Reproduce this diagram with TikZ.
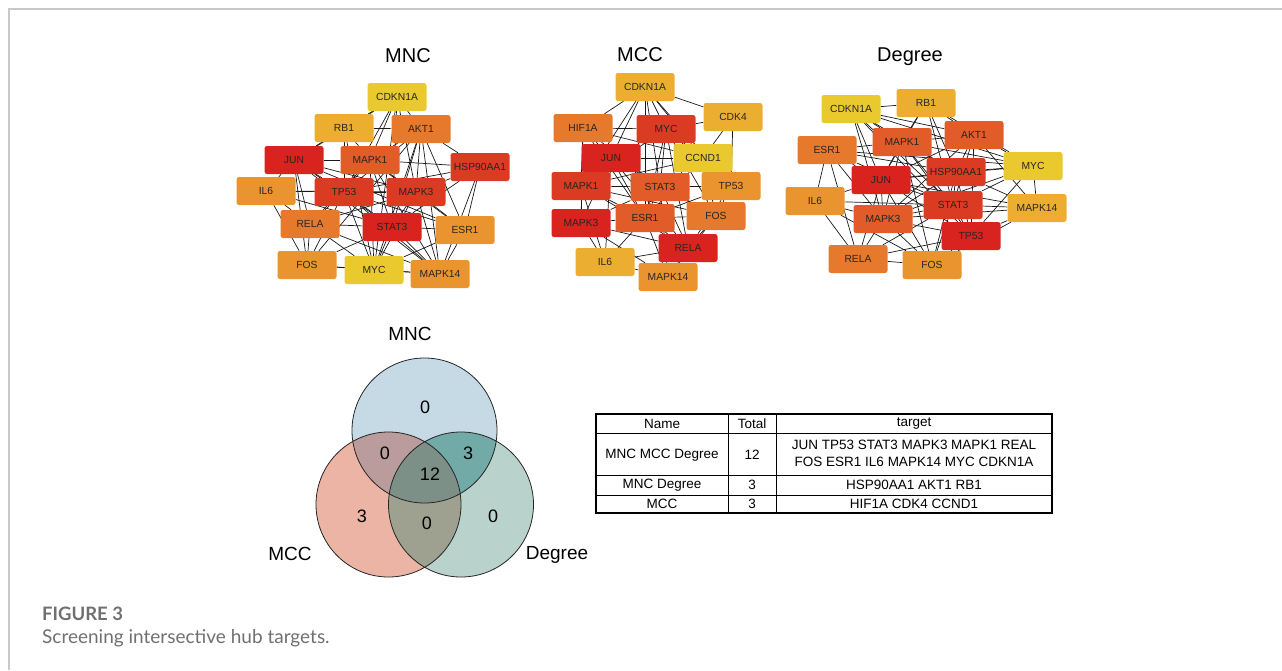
\documentclass[tikz,border=0pt]{standalone}
\usepackage{fontspec}
\setmainfont{Liberation Sans}
\newfontfamily\capfont{Lato}
\usepackage{tikz}
\usetikzlibrary{backgrounds}

\definecolor{hubA}{HTML}{D8231F}
\definecolor{hubB}{HTML}{DC3B23}
\definecolor{hubC}{HTML}{E15C28}
\definecolor{hubD}{HTML}{E6792B}
\definecolor{hubE}{HTML}{EA942F}
\definecolor{hubF}{HTML}{EBAE30}
\definecolor{hubG}{HTML}{EAC92F}
\definecolor{vTop}{HTML}{C5DAE4}
\definecolor{vLeft}{HTML}{EBB4A4}
\definecolor{vRight}{HTML}{B9D3CC}
\definecolor{vTL}{HTML}{BA9C9C}
\definecolor{vTR}{HTML}{72AAA7}
\definecolor{vLR}{HTML}{9FA190}
\definecolor{vAll}{HTML}{7C9087}
\definecolor{frame}{HTML}{C8C8C8}
\definecolor{captxt}{HTML}{707070}

\tikzset{
  gene/.style={rectangle,rounded corners=2.5pt,minimum width=59pt,minimum height=28pt,
    inner sep=0pt,font=\fontsize{10.3}{11}\selectfont,text=black!85},
  title/.style={font=\fontsize{20}{22}\selectfont,anchor=base},
  setlab/.style={font=\fontsize{19}{21}\selectfont,anchor=base},
  count/.style={font=\fontsize{18}{20}\selectfont},
  cell/.style={font=\fontsize{13.5}{16}\selectfont,inner sep=0pt},
  link/.style={line width=0.7pt,black!90}
}

\begin{document}
\begin{tikzpicture}[x=1pt,y=-1pt]
   \useasboundingbox (0,0) rectangle (1282,670);
   % frame
   \draw[frame,line width=1.6pt] (9,670) -- (9,9) -- (1282,9);

   % network MNC
   \node[title] (tMNC) at (408,62) {MNC};
   \node[gene,fill=hubG] (nCDKN1A)   at (397,97)  {CDKN1A};
   \node[gene,fill=hubF] (nRB1)      at (344,128) {RB1};
   \node[gene,fill=hubD] (nAKT1)     at (421,129) {AKT1};
   \node[gene,fill=hubA] (nJUN)      at (294,160) {JUN};
   \node[gene,fill=hubC] (nMAPK1)    at (370,160) {MAPK1};
   \node[gene,fill=hubB] (nHSP90AA1) at (480,167) {HSP90AA1};
   \node[gene,fill=hubE] (nIL6)      at (266,191) {IL6};
   \node[gene,fill=hubB] (nTP53)     at (344,192) {TP53};
   \node[gene,fill=hubB] (nMAPK3)    at (416,192) {MAPK3};
   \node[gene,fill=hubD] (nRELA)     at (310,224) {RELA};
   \node[gene,fill=hubA] (nSTAT3)    at (392,227) {STAT3};
   \node[gene,fill=hubE] (nESR1)     at (465,230) {ESR1};
   \node[gene,fill=hubE] (nFOS)      at (307,265) {FOS};
   \node[gene,fill=hubG] (nMYC)      at (374,270) {MYC};
   \node[gene,fill=hubE] (nMAPK14)   at (440,274) {MAPK14};
   \begin{scope}[on background layer]
    \path[link]
    (nCDKN1A) edge (nJUN) (nCDKN1A) edge (nTP53) (nCDKN1A) edge (nMAPK3)
    (nCDKN1A) edge (nSTAT3) (nCDKN1A) edge (nMYC) (nCDKN1A) edge (nAKT1)
    (nCDKN1A) edge (nRB1) (nCDKN1A) edge (nMAPK1)
    (nRB1) edge (nJUN) (nRB1) edge (nTP53) (nRB1) edge (nMAPK1)
    (nRB1) edge (nAKT1) (nRB1) edge (nMYC)
    (nAKT1) edge (nMAPK1) (nAKT1) edge (nHSP90AA1) (nAKT1) edge (nTP53)
    (nAKT1) edge (nMAPK3) (nAKT1) edge (nSTAT3) (nAKT1) edge (nESR1)
    (nAKT1) edge (nMAPK14) (nAKT1) edge (nFOS) (nAKT1) edge (nMYC)
    (nJUN) edge (nMAPK1) (nJUN) edge (nIL6) (nJUN) edge (nTP53)
    (nJUN) edge (nRELA) (nJUN) edge (nFOS) (nJUN) edge (nSTAT3)
    (nJUN) edge (nMAPK3) (nJUN) edge (nESR1) (nJUN) edge (nMAPK14)
    (nMAPK1) edge (nHSP90AA1) (nMAPK1) edge (nTP53) (nMAPK1) edge (nMAPK3)
    (nMAPK1) edge (nSTAT3) (nMAPK1) edge (nRELA) (nMAPK1) edge (nESR1)
    (nMAPK1) edge (nMAPK14) (nMAPK1) edge (nMYC)
    (nHSP90AA1) edge (nMAPK3) (nHSP90AA1) edge (nESR1) (nHSP90AA1) edge (nSTAT3)
    (nHSP90AA1) edge (nMAPK14) (nHSP90AA1) edge (nTP53)
    (nIL6) edge (nTP53) (nIL6) edge (nRELA) (nIL6) edge (nSTAT3)
    (nIL6) edge (nFOS) (nIL6) edge (nMAPK3)
    (nTP53) edge (nMAPK3) (nTP53) edge (nRELA) (nTP53) edge (nSTAT3)
    (nTP53) edge (nMYC) (nTP53) edge (nMAPK14) (nTP53) edge (nESR1)
    (nTP53) edge (nFOS)
    (nMAPK3) edge (nSTAT3) (nMAPK3) edge (nESR1) (nMAPK3) edge (nMAPK14)
    (nMAPK3) edge (nMYC) (nMAPK3) edge (nRELA)
    (nRELA) edge (nSTAT3) (nRELA) edge (nFOS) (nRELA) edge (nMYC)
    (nRELA) edge (nMAPK14)
    (nSTAT3) edge (nESR1) (nSTAT3) edge (nMYC) (nSTAT3) edge (nMAPK14)
    (nSTAT3) edge (nFOS)
    (nESR1) edge (nMAPK14) (nESR1) edge (nMYC)
    (nFOS) edge (nMYC) (nFOS) edge (nMAPK14) (nMYC) edge (nMAPK14);
   \end{scope}

   % network MCC
   \node[title] (tMCC) at (640,61) {MCC};
   \node[gene,fill=hubF] (cCDKN1A) at (645,87)  {CDKN1A};
   \node[gene,fill=hubD] (cHIF1A)  at (583,128) {HIF1A};
   \node[gene,fill=hubB] (cMYC)    at (666,129) {MYC};
   \node[gene,fill=hubF] (cCDK4)   at (733,117) {CDK4};
   \node[gene,fill=hubA] (cJUN)    at (611,158) {JUN};
   \node[gene,fill=hubG] (cCCND1)  at (703,158) {CCND1};
   \node[gene,fill=hubB] (cMAPK1)  at (581,186) {MAPK1};
   \node[gene,fill=hubC] (cSTAT3)  at (660,187) {STAT3};
   \node[gene,fill=hubE] (cTP53)   at (731,186) {TP53};
   \node[gene,fill=hubA] (cMAPK3)  at (581,223) {MAPK3};
   \node[gene,fill=hubC] (cESR1)   at (645,218) {ESR1};
   \node[gene,fill=hubD] (cFOS)    at (716,216) {FOS};
   \node[gene,fill=hubA] (cRELA)   at (688,248) {RELA};
   \node[gene,fill=hubF] (cIL6)    at (605,262) {IL6};
   \node[gene,fill=hubE] (cMAPK14) at (668,277) {MAPK14};
   \begin{scope}[on background layer]
    \path[link]
    (cCDKN1A) edge (cHIF1A) (cCDKN1A) edge (cMYC) (cCDKN1A) edge (cCDK4)
    (cCDKN1A) edge (cJUN) (cCDKN1A) edge (cCCND1) (cCDKN1A) edge (cSTAT3)
    (cCDKN1A) edge (cTP53) (cCDKN1A) edge (cMAPK1) (cCDKN1A) edge (cESR1)
    (cHIF1A) edge (cMYC) (cHIF1A) edge (cJUN) (cHIF1A) edge (cMAPK1)
    (cHIF1A) edge (cSTAT3) (cHIF1A) edge (cCCND1) (cHIF1A) edge (cESR1)
    (cHIF1A) edge (cMAPK3)
    (cMYC) edge (cCDK4) (cMYC) edge (cJUN) (cMYC) edge (cCCND1)
    (cMYC) edge (cSTAT3) (cMYC) edge (cTP53) (cMYC) edge (cESR1)
    (cMYC) edge (cMAPK1) (cMYC) edge (cFOS) (cMYC) edge (cRELA)
    (cCDK4) edge (cCCND1) (cCDK4) edge (cTP53)
    (cJUN) edge (cCCND1) (cJUN) edge (cMAPK1) (cJUN) edge (cSTAT3)
    (cJUN) edge (cMAPK3) (cJUN) edge (cESR1) (cJUN) edge (cFOS)
    (cJUN) edge (cRELA) (cJUN) edge (cIL6)
    (cCCND1) edge (cSTAT3) (cCCND1) edge (cTP53) (cCCND1) edge (cESR1)
    (cCCND1) edge (cFOS) (cCCND1) edge (cMAPK1)
    (cMAPK1) edge (cSTAT3) (cMAPK1) edge (cMAPK3) (cMAPK1) edge (cESR1)
    (cMAPK1) edge (cRELA) (cMAPK1) edge (cIL6) (cMAPK1) edge (cFOS)
    (cSTAT3) edge (cTP53) (cSTAT3) edge (cESR1) (cSTAT3) edge (cFOS)
    (cSTAT3) edge (cRELA) (cSTAT3) edge (cMAPK3) (cSTAT3) edge (cMAPK14)
    (cTP53) edge (cFOS) (cTP53) edge (cRELA) (cTP53) edge (cESR1)
    (cMAPK3) edge (cESR1) (cMAPK3) edge (cIL6) (cMAPK3) edge (cMAPK14)
    (cMAPK3) edge (cRELA)
    (cESR1) edge (cFOS) (cESR1) edge (cRELA) (cESR1) edge (cIL6)
    (cESR1) edge (cMAPK14)
    (cFOS) edge (cRELA) (cFOS) edge (cMAPK14)
    (cRELA) edge (cIL6) (cRELA) edge (cMAPK14) (cIL6) edge (cMAPK14);
   \end{scope}

   % network Degree
   \node[title] (tDeg) at (910,61) {Degree};
   \node[gene,fill=hubG] (dCDKN1A)   at (851,109)  {CDKN1A};
   \node[gene,fill=hubF] (dRB1)      at (926,103)  {RB1};
   \node[gene,fill=hubC] (dAKT1)     at (974,135)  {AKT1};
   \node[gene,fill=hubC] (dMAPK1)    at (902,142)  {MAPK1};
   \node[gene,fill=hubD] (dESR1)     at (827,150)  {ESR1};
   \node[gene,fill=hubG] (dMYC)      at (1033,166) {MYC};
   \node[gene,fill=hubB] (dHSP90AA1) at (956,172)  {HSP90AA1};
   \node[gene,fill=hubA] (dJUN)      at (881,180)  {JUN};
   \node[gene,fill=hubE] (dIL6)      at (815,201)  {IL6};
   \node[gene,fill=hubB] (dSTAT3)    at (953,205)  {STAT3};
   \node[gene,fill=hubF] (dMAPK14)   at (1037,208) {MAPK14};
   \node[gene,fill=hubC] (dMAPK3)    at (883,219)  {MAPK3};
   \node[gene,fill=hubA] (dTP53)     at (971,236)  {TP53};
   \node[gene,fill=hubD] (dRELA)     at (858,259)  {RELA};
   \node[gene,fill=hubE] (dFOS)      at (932,265)  {FOS};
   \begin{scope}[on background layer]
    \path[link]
    (dCDKN1A) edge (dRB1) (dCDKN1A) edge (dMAPK1) (dCDKN1A) edge (dAKT1)
    (dCDKN1A) edge (dJUN) (dCDKN1A) edge (dHSP90AA1) (dCDKN1A) edge (dSTAT3)
    (dCDKN1A) edge (dTP53) (dCDKN1A) edge (dMAPK3) (dCDKN1A) edge (dMYC)
    (dRB1) edge (dMAPK1) (dRB1) edge (dAKT1) (dRB1) edge (dJUN)
    (dRB1) edge (dHSP90AA1) (dRB1) edge (dSTAT3) (dRB1) edge (dMYC)
    (dAKT1) edge (dMAPK1) (dAKT1) edge (dMYC) (dAKT1) edge (dHSP90AA1)
    (dAKT1) edge (dSTAT3) (dAKT1) edge (dTP53) (dAKT1) edge (dMAPK14)
    (dAKT1) edge (dJUN) (dAKT1) edge (dMAPK3)
    (dMAPK1) edge (dESR1) (dMAPK1) edge (dJUN) (dMAPK1) edge (dHSP90AA1)
    (dMAPK1) edge (dSTAT3) (dMAPK1) edge (dMAPK3) (dMAPK1) edge (dTP53)
    (dMAPK1) edge (dMYC) (dMAPK1) edge (dFOS)
    (dESR1) edge (dJUN) (dESR1) edge (dIL6) (dESR1) edge (dHSP90AA1)
    (dESR1) edge (dSTAT3) (dESR1) edge (dMAPK3) (dESR1) edge (dRELA)
    (dESR1) edge (dMYC)
    (dMYC) edge (dHSP90AA1) (dMYC) edge (dSTAT3) (dMYC) edge (dMAPK14)
    (dMYC) edge (dTP53) (dMYC) edge (dJUN) (dMYC) edge (dMAPK3)
    (dHSP90AA1) edge (dJUN) (dHSP90AA1) edge (dSTAT3) (dHSP90AA1) edge (dMAPK14)
    (dHSP90AA1) edge (dTP53) (dHSP90AA1) edge (dMAPK3) (dHSP90AA1) edge (dFOS)
    (dJUN) edge (dIL6) (dJUN) edge (dSTAT3) (dJUN) edge (dMAPK3)
    (dJUN) edge (dTP53) (dJUN) edge (dRELA) (dJUN) edge (dFOS)
    (dJUN) edge (dMAPK14)
    (dIL6) edge (dMAPK3) (dIL6) edge (dRELA) (dIL6) edge (dFOS)
    (dIL6) edge (dSTAT3)
    (dSTAT3) edge (dMAPK14) (dSTAT3) edge (dMAPK3) (dSTAT3) edge (dTP53)
    (dSTAT3) edge (dFOS) (dSTAT3) edge (dRELA)
    (dMAPK14) edge (dTP53) (dMAPK14) edge (dFOS) (dMAPK14) edge (dMAPK3)
    (dMAPK3) edge (dTP53) (dMAPK3) edge (dRELA) (dMAPK3) edge (dFOS)
    (dTP53) edge (dFOS) (dTP53) edge (dRELA) (dRELA) edge (dFOS);
   \end{scope}

   % Venn diagram
   \coordinate (vT) at (424.5,430.5);
   \coordinate (vL) at (388.5,504.5);
   \coordinate (vR) at (461,504.5);
   \fill[vTop] (vT) circle[radius=72.5pt];
   \fill[vLeft] (vL) circle[radius=72.5pt];
   \fill[vRight] (vR) circle[radius=72.5pt];
   \begin{scope}
    \clip (vT) circle[radius=72.5pt];
    \fill[vTL] (vL) circle[radius=72.5pt];
    \fill[vTR] (vR) circle[radius=72.5pt];
   \end{scope}
   \begin{scope}
    \clip (vL) circle[radius=72.5pt];
    \fill[vLR] (vR) circle[radius=72.5pt];
    \clip (vT) circle[radius=72.5pt];
    \fill[vAll] (vR) circle[radius=72.5pt];
   \end{scope}
   \draw[line width=0.8pt,black!85] (vT) circle[radius=72.5pt]
     (vL) circle[radius=72.5pt] (vR) circle[radius=72.5pt];
   \node[setlab] (lMNC) at (410,340) {MNC};
   \node[setlab] (lMCC) at (290,560) {MCC};
   \node[setlab] (lDeg) at (557,559) {Degree};
   \node[count] (kT)   at (425,407) {0};
   \node[count] (kTL)  at (385,453) {0};
   \node[count] (kTR)  at (468,453) {3};
   \node[count] (kAll) at (430,474) {12};
   \node[count] (kL)   at (362,516) {3};
   \node[count] (kLR)  at (427,523) {0};
   \node[count] (kR)   at (493,516) {0};

   % table
   \draw[line width=1.1pt] (596,414) rectangle (1052,513);
   \draw[line width=0.9pt] (596,433) -- (1052,433) (596,475) -- (1052,475)
     (596,495) -- (1052,495) (728,414) -- (728,513) (776,414) -- (776,513);
   \node[cell] (hName)  at (662,424) {Name};
   \node[cell] (hTotal) at (752,424) {Total};
   \node[cell] (hTgt)   at (914,424) {target};
   \node[cell] (rA)  at (662,455) {MNC MCC Degree};
   \node[cell] (rAn) at (752,455) {12};
   \node[cell] (rAt) at (914,455) {\begin{tabular}{@{}c@{}}JUN TP53 STAT3 MAPK3 MAPK1 REAL\\[1pt]
      FOS ESR1 IL6 MAPK14 MYC CDKN1A\end{tabular}};
   \node[cell] (rB)  at (662,485) {MNC Degree};
   \node[cell] (rBn) at (752,485) {3};
   \node[cell] (rBt) at (914,485) {HSP90AA1 AKT1 RB1};
   \node[cell] (rC)  at (662,504) {MCC};
   \node[cell] (rCn) at (752,504) {3};
   \node[cell] (rCt) at (914,504) {HIF1A CDK4 CCND1};

   % caption
   \node[anchor=base west,inner sep=0pt,text=captxt,font=\capfont\bfseries\fontsize{18.5}{20}\selectfont]
     (capA) at (42,620) {FIGURE 3};
   \node[anchor=base west,inner sep=0pt,text=captxt,font=\capfont\fontsize{19}{21}\selectfont]
     (capB) at (42,643) {Screening intersective hub targets.};
\end{tikzpicture}
\end{document}
